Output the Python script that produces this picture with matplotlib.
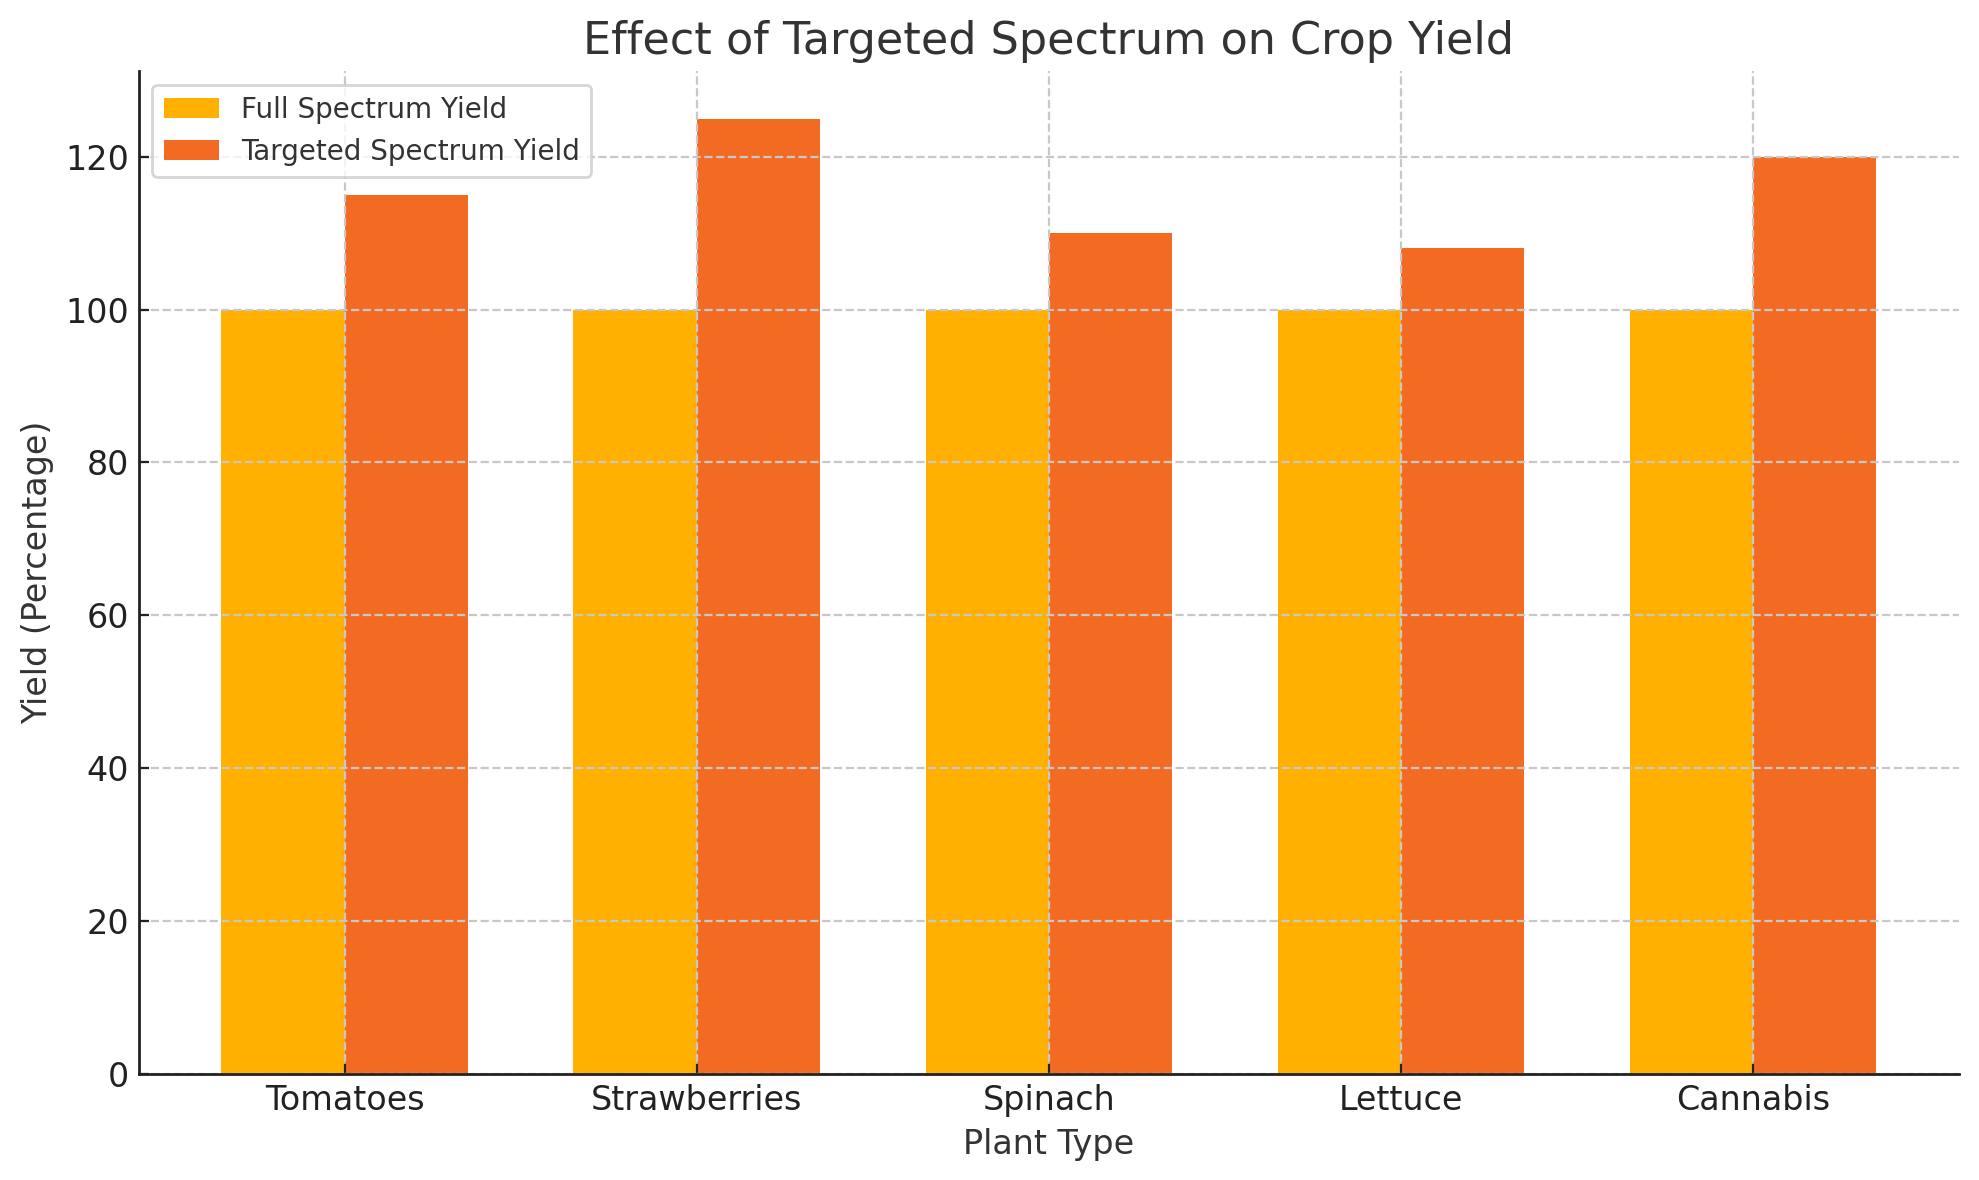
import matplotlib
matplotlib.use("Agg")
import matplotlib.pyplot as plt
import numpy as np

plants = ["Tomatoes", "Strawberries", "Spinach", "Lettuce", "Cannabis"]
full_yield = [100, 100, 100, 100, 100]
targeted_yield = [115, 125, 110, 108, 120]

text_col = "#333333"
plt.rcParams["text.color"] = text_col
plt.rcParams["axes.labelcolor"] = text_col

fig, ax = plt.subplots(figsize=(9.895, 5.9), dpi=200)
x = np.arange(len(plants))
w = 0.35
ax.bar(x - w / 2, full_yield, w, color="#FFB000", label="Full Spectrum Yield")
ax.bar(x + w / 2, targeted_yield, w, color="#F36B22", label="Targeted Spectrum Yield")

ax.set_xticks(x)
ax.set_xticklabels(plants)
ax.tick_params(labelsize=12, colors="#222222", direction="in")
ax.set_xlabel("Plant Type", fontsize=12)
ax.set_ylabel("Yield (Percentage)", fontsize=12)
ax.set_title("Effect of Targeted Spectrum on Crop Yield", fontsize=16)
ax.grid(True, linestyle="--", color="#c8c8c8", linewidth=0.8)
ax.set_axisbelow(False)
for s in ["top", "right"]:
    ax.spines[s].set_visible(False)
for s in ["left", "bottom"]:
    ax.spines[s].set_color("#222222")
    ax.spines[s].set_linewidth(1.0)
    ax.spines[s].set_zorder(3)
leg = ax.legend(loc="upper left", fontsize=10)
leg.get_frame().set_edgecolor("#cccccc")

fig.subplots_adjust(left=0.07, right=0.99, top=0.94, bottom=0.09)
fig.savefig("out.png", dpi=200)
